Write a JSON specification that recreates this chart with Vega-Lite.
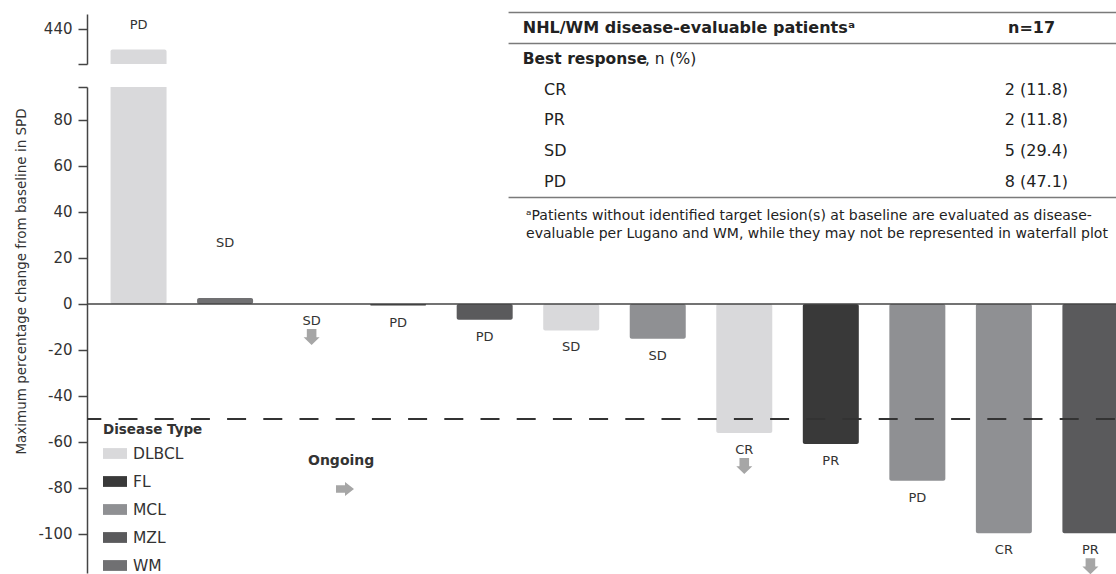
{
  "$schema": "https://vega.github.io/schema/vega-lite/v6.json",
  "background": "white",
  "padding": {"left": 13, "top": 11, "right": 0, "bottom": 0},
  "bounds": "flush",
  "spacing": 23,
  "config": {
    "view": {"stroke": null},
    "font": "DejaVu Sans",
    "axis": {
      "domainColor": "#444", "domainWidth": 1.5, "tickColor": "#444", "tickWidth": 1.5, "tickSize": 9,
      "labelFontSize": 15, "labelColor": "#333", "labelPadding": 6, "grid": false,
      "titleFontSize": 13.5, "titleFontWeight": "normal", "titleColor": "#333"
    },
    "legend": {
      "titleFontSize": 13.5, "titleFontWeight": "bold", "titleColor": "#333",
      "labelFontSize": 15.5, "labelColor": "#333", "symbolStrokeWidth": 0, "padding": 0
    }
  },
  "datasets": {
    "patients": [
      {"id": 1, "disease": "DLBCL", "value": 431, "response": "PD", "ongoing": false},
      {"id": 2, "disease": "WM", "value": 2.6, "response": "SD", "ongoing": false},
      {"id": 3, "disease": "DLBCL", "value": 0, "response": "SD", "ongoing": true},
      {"id": 4, "disease": "FL", "value": -0.7, "response": "PD", "ongoing": false},
      {"id": 5, "disease": "MZL", "value": -6.9, "response": "PD", "ongoing": false},
      {"id": 6, "disease": "DLBCL", "value": -11.5, "response": "SD", "ongoing": false},
      {"id": 7, "disease": "MCL", "value": -15.1, "response": "SD", "ongoing": false},
      {"id": 8, "disease": "DLBCL", "value": -56.1, "response": "CR", "ongoing": true},
      {"id": 9, "disease": "FL", "value": -60.9, "response": "PR", "ongoing": false},
      {"id": 10, "disease": "MCL", "value": -76.9, "response": "PD", "ongoing": false},
      {"id": 11, "disease": "MCL", "value": -99.7, "response": "CR", "ongoing": false},
      {"id": 12, "disease": "MZL", "value": -99.7, "response": "PR", "ongoing": true}
    ],
    "table": [
      {"r": 0.5, "kind": "line"},
      {"r": 1, "kind": "header", "left": "NHL/WM disease-evaluable patientsᵃ", "right": "n=17"},
      {"r": 1.5, "kind": "line"},
      {"r": 2, "kind": "section", "left": "Best response", "suffix": ", n (%)"},
      {"r": 3, "kind": "item", "left": "CR", "right": "2 (11.8)"},
      {"r": 4, "kind": "item", "left": "PR", "right": "2 (11.8)"},
      {"r": 5, "kind": "item", "left": "SD", "right": "5 (29.4)"},
      {"r": 6, "kind": "item", "left": "PD", "right": "8 (47.1)"},
      {"r": 6.5, "kind": "line"},
      {"r": 7, "kind": "note", "left": "ᵃPatients without identified target lesion(s) at baseline are evaluated as disease-\nevaluable per Lugano and WM, while they may not be represented in waterfall plot"}
    ]
  },
  "resolve": {"scale": {"color": "shared"}},
  "vconcat": [
    {
      "width": 1029,
      "height": 50,
      "data": {"name": "patients"},
      "layer": [
        {
          "mark": {"type": "bar", "width": 56, "clip": true, "cornerRadius": 2},
          "encoding": {
            "x": {"field": "id", "type": "quantitative", "scale": {"domain": [0.462, 12.238], "nice": false, "zero": false}, "axis": null},
            "y": {"field": "value", "type": "quantitative", "title": null, "scale": {"domain": [424.74, 446.48], "nice": false, "zero": false},
                  "axis": {"values": [440, 424.74], "labelExpr": "datum.value == 440 ? '440' : ''"}},
            "y2": {"datum": 0},
            "color": {"field": "disease", "type": "nominal",
              "scale": {"domain": ["DLBCL", "FL", "MCL", "MZL", "WM"], "range": ["#d9d9db", "#393939", "#8f9093", "#5a5a5c", "#707072"]},
              "legend": {"title": "Disease Type", "orient": "none", "legendX": 16, "legendY": 409, "symbolType": "M-1,-0.45H1V0.45H-1Z", "symbolSize": 576, "labelOffset": 6, "rowPadding": 7, "titlePadding": 5}}
          }
        },
        {
          "transform": [{"filter": "datum.value > 94.35"}],
          "mark": {"type": "text", "dy": -25, "fontSize": 13, "color": "#333"},
          "encoding": {
            "x": {"field": "id", "type": "quantitative", "scale": {"domain": [0.462, 12.238], "nice": false, "zero": false}, "axis": null},
            "y": {"field": "value", "type": "quantitative", "title": null, "scale": {"domain": [424.74, 446.48], "nice": false, "zero": false}},
            "text": {"field": "response"}
          }
        }
      ]
    },
    {
      "width": 1029,
      "height": 486,
      "layer": [
        {
          "data": {"name": "patients"},
          "layer": [
            {
              "mark": {"type": "bar", "width": 56, "clip": true, "cornerRadius": 2},
              "encoding": {
                "x": {"field": "id", "type": "quantitative", "scale": {"domain": [0.462, 12.238], "nice": false, "zero": false}, "axis": null},
                "y": {"field": "value", "type": "quantitative", "title": "Maximum percentage change from baseline in SPD",
                      "scale": {"domain": [-117, 94.35], "nice": false},
                      "axis": {"values": [-100, -80, -60, -40, -20, 0, 20, 40, 60, 80, 94.35], "labelExpr": "datum.value > 90 ? '' : '' + datum.value", "titleX": -59, "titleY": 194}},
                "y2": {"datum": 0},
                "color": {"field": "disease", "type": "nominal",
                  "scale": {"domain": ["DLBCL", "FL", "MCL", "MZL", "WM"], "range": ["#d9d9db", "#393939", "#8f9093", "#5a5a5c", "#707072"]},
                  "legend": {"title": "Disease Type", "orient": "none", "legendX": 16, "legendY": 409, "symbolType": "M-1,-0.45H1V0.45H-1Z", "symbolSize": 576, "labelOffset": 6, "rowPadding": 7, "titlePadding": 5}}
              }
            },
            {
              "transform": [{"filter": "datum.value <= 0"}],
              "mark": {"type": "text", "dy": 17, "fontSize": 13, "color": "#333"},
              "encoding": {
                "x": {"field": "id", "type": "quantitative", "scale": {"domain": [0.462, 12.238], "nice": false, "zero": false}, "axis": null},
                "y": {"field": "value", "type": "quantitative", "title": "Maximum percentage change from baseline in SPD", "scale": {"domain": [-117, 94.35], "nice": false}},
                "text": {"field": "response"}
              }
            },
            {
              "transform": [{"filter": "datum.value > 0 && datum.value < 94.35"}],
              "mark": {"type": "text", "dy": -55, "fontSize": 13, "color": "#333"},
              "encoding": {
                "x": {"field": "id", "type": "quantitative", "scale": {"domain": [0.462, 12.238], "nice": false, "zero": false}, "axis": null},
                "y": {"field": "value", "type": "quantitative", "title": "Maximum percentage change from baseline in SPD", "scale": {"domain": [-117, 94.35], "nice": false}},
                "text": {"field": "response"}
              }
            },
            {
              "transform": [{"filter": "datum.ongoing"}],
              "mark": {"type": "point", "shape": "M-0.6,-1H0.6V0.05H1L0,1L-1,0.05H-0.6Z", "size": 256, "filled": true, "opacity": 1, "strokeWidth": 0, "yOffset": 33},
              "encoding": {
                "x": {"field": "id", "type": "quantitative", "scale": {"domain": [0.462, 12.238], "nice": false, "zero": false}, "axis": null},
                "y": {"field": "value", "type": "quantitative", "title": "Maximum percentage change from baseline in SPD", "scale": {"domain": [-117, 94.35], "nice": false}},
                "fill": {"field": "ongoing", "type": "nominal", "scale": {"range": ["#a6a6a6"]},
                  "legend": {"title": "Ongoing", "orient": "none", "legendX": 221, "legendY": 440, "labelExpr": "''", "symbolType": "M-1,-0.43H0V-0.78L1,0L0,0.78V0.43H-1Z", "symbolSize": 324, "symbolOffset": 28, "titleFontSize": 14, "titlePadding": 12}}
              }
            }
          ]
        },
        {
          "data": {"values": [{"baseline": 0}]},
          "mark": {"type": "rule", "color": "#444", "strokeWidth": 1.5},
          "encoding": {"y": {"field": "baseline", "type": "quantitative", "scale": {"domain": [-117, 94.35], "nice": false}, "axis": null}}
        },
        {
          "data": {"values": [{"threshold": -50}]},
          "mark": {"type": "rule", "color": "#333", "strokeWidth": 2, "strokeDash": [19, 17.2], "strokeDashOffset": 35.1},
          "encoding": {"y": {"field": "threshold", "type": "quantitative", "scale": {"domain": [-117, 94.35], "nice": false}, "axis": null}}
        },
        {
          "data": {"name": "table"},
          "layer": [
            {
              "transform": [{"filter": "datum.kind == 'line'"}],
              "mark": {"type": "rule", "color": "#7a7a7a", "strokeWidth": 1.5},
              "encoding": {
                "x": {"datum": 0, "type": "quantitative", "scale": {"domain": [-0.694, 1], "nice": false, "zero": false}, "axis": null},
                "x2": {"datum": 1},
                "y": {"field": "r", "type": "quantitative", "scale": {"domain": [2.914, 18.683], "reverse": true, "nice": false, "zero": false}, "axis": null}
              }
            },
            {
              "transform": [{"filter": "datum.kind == 'header'"}],
              "mark": {"type": "text", "align": "left", "fontWeight": "bold", "fontSize": 16, "color": "#222"},
              "encoding": {
                "x": {"datum": 0.0234, "type": "quantitative", "scale": {"domain": [-0.694, 1], "nice": false, "zero": false}, "axis": null},
                "y": {"field": "r", "type": "quantitative", "scale": {"domain": [2.914, 18.683], "reverse": true, "nice": false, "zero": false}, "axis": null},
                "text": {"field": "left"}
              }
            },
            {
              "transform": [{"filter": "datum.kind == 'header'"}],
              "mark": {"type": "text", "align": "center", "fontWeight": "bold", "fontSize": 16, "color": "#222"},
              "encoding": {
                "x": {"datum": 0.861, "type": "quantitative", "scale": {"domain": [-0.694, 1], "nice": false, "zero": false}, "axis": null},
                "y": {"field": "r", "type": "quantitative", "scale": {"domain": [2.914, 18.683], "reverse": true, "nice": false, "zero": false}, "axis": null},
                "text": {"field": "right"}
              }
            },
            {
              "transform": [{"filter": "datum.kind == 'section'"}],
              "mark": {"type": "text", "align": "left", "fontWeight": "bold", "fontSize": 15.5, "color": "#222"},
              "encoding": {
                "x": {"datum": 0.0234, "type": "quantitative", "scale": {"domain": [-0.694, 1], "nice": false, "zero": false}, "axis": null},
                "y": {"field": "r", "type": "quantitative", "scale": {"domain": [2.914, 18.683], "reverse": true, "nice": false, "zero": false}, "axis": null},
                "text": {"field": "left"}
              }
            },
            {
              "transform": [{"filter": "datum.kind == 'section'"}],
              "mark": {"type": "text", "align": "left", "fontSize": 15.5, "color": "#222"},
              "encoding": {
                "x": {"datum": 0.2245, "type": "quantitative", "scale": {"domain": [-0.694, 1], "nice": false, "zero": false}, "axis": null},
                "y": {"field": "r", "type": "quantitative", "scale": {"domain": [2.914, 18.683], "reverse": true, "nice": false, "zero": false}, "axis": null},
                "text": {"field": "suffix"}
              }
            },
            {
              "transform": [{"filter": "datum.kind == 'item'"}],
              "mark": {"type": "text", "align": "left", "fontSize": 16, "color": "#222"},
              "encoding": {
                "x": {"datum": 0.0584, "type": "quantitative", "scale": {"domain": [-0.694, 1], "nice": false, "zero": false}, "axis": null},
                "y": {"field": "r", "type": "quantitative", "scale": {"domain": [2.914, 18.683], "reverse": true, "nice": false, "zero": false}, "axis": null},
                "text": {"field": "left"}
              }
            },
            {
              "transform": [{"filter": "datum.kind == 'item'"}],
              "mark": {"type": "text", "align": "center", "fontSize": 16, "color": "#222"},
              "encoding": {
                "x": {"datum": 0.869, "type": "quantitative", "scale": {"domain": [-0.694, 1], "nice": false, "zero": false}, "axis": null},
                "y": {"field": "r", "type": "quantitative", "scale": {"domain": [2.914, 18.683], "reverse": true, "nice": false, "zero": false}, "axis": null},
                "text": {"field": "right"}
              }
            },
            {
              "transform": [{"filter": "datum.kind == 'note'"}],
              "mark": {"type": "text", "align": "left", "fontSize": 14, "color": "#222", "lineBreak": "\n", "lineHeight": 18, "dy": 3},
              "encoding": {
                "x": {"datum": 0.0288, "type": "quantitative", "scale": {"domain": [-0.694, 1], "nice": false, "zero": false}, "axis": null},
                "y": {"field": "r", "type": "quantitative", "scale": {"domain": [2.914, 18.683], "reverse": true, "nice": false, "zero": false}, "axis": null},
                "text": {"field": "left"}
              }
            }
          ]
        }
      ],
      "resolve": {"scale": {"x": "independent", "y": "independent"}}
    }
  ]
}
